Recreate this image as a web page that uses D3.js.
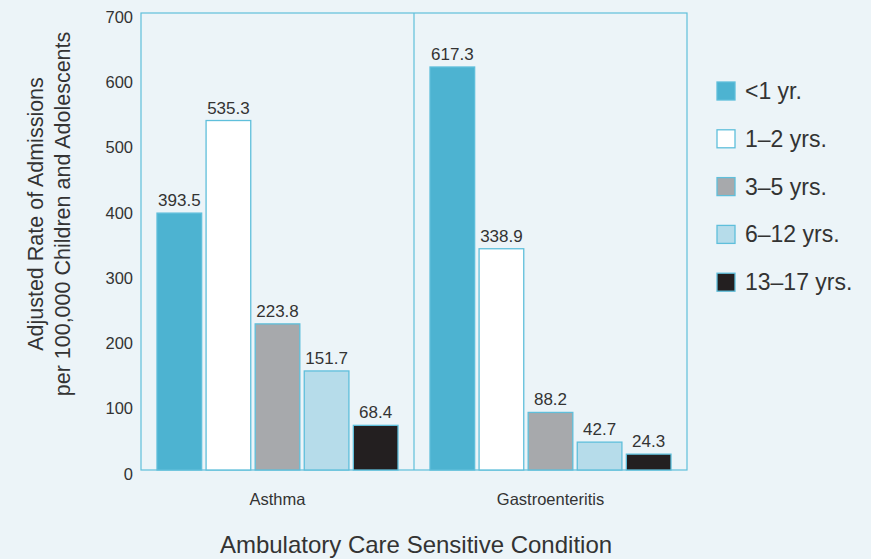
<!DOCTYPE html>
<html><head><meta charset="utf-8">
<script src="https://cdn.jsdelivr.net/npm/d3@7"></script>
<style>body{margin:0;background:#ecf4f8;}svg{display:block;}</style>
</head><body>
<svg id="c" width="871" height="559"></svg>
<script>
const categories = ["Asthma", "Gastroenteritis"];
const seriesNames = ["<1 yr.", "1\u20132 yrs.", "3\u20135 yrs.", "6\u201312 yrs.", "13\u201317 yrs."];
const asthmaValues = [393.5, 535.3, 223.8, 151.7, 68.4];
const gastroValues = [617.3, 338.9, 88.2, 42.7, 24.3];
const yTicks = [0, 100, 200, 300, 400, 500, 600, 700];
const colors = ["#4db3d1", "#ffffff", "#a7a9ac", "#b6dcea", "#231f20"];

const valuesByCat = [asthmaValues, gastroValues];
const font = "'Liberation Sans', Arial, sans-serif";
const txt = "#333333";
const edge = "#5fbfdb";

const svg = d3.select("#c");
const L = 141, R = 687, T = 13, B = 470;
svg.append("rect").attr("width", 871).attr("height", 559).attr("fill", "#ecf4f8");

const x0 = d3.scaleBand().domain(categories).range([L, R]);
const x1 = d3.scaleBand().domain(seriesNames).range([16, x0.bandwidth() - 16]).paddingInner(0.09).paddingOuter(0);
const y = d3.scaleLinear().domain([0, 700]).range([B, T]);

// frame
svg.append("rect").attr("x", L).attr("y", T).attr("width", R - L).attr("height", B - T)
  .attr("fill", "none").attr("stroke", edge).attr("stroke-width", 1.2);
categories.slice(1).forEach(c => {
  svg.append("line").attr("x1", x0(c)).attr("x2", x0(c)).attr("y1", T).attr("y2", B)
    .attr("stroke", edge).attr("stroke-width", 1.2);
});

// y axis
const yAxis = d3.axisLeft(y).tickValues(yTicks).tickSize(0).tickPadding(8);
const ga = svg.append("g").attr("transform", `translate(${L},0)`).call(yAxis);
ga.select(".domain").remove();
ga.selectAll("text").attr("font-family", font).attr("font-size", 16.5).attr("fill", txt).attr("dy", "0.62em").attr("transform", "translate(0,-1)");

// bars
categories.forEach((c, ci) => {
  const g = svg.append("g").attr("transform", `translate(${x0(c)},0)`);
  seriesNames.forEach((s, si) => {
    const v = valuesByCat[ci][si];
    g.append("rect").attr("x", x1(s)).attr("y", y(v)).attr("width", x1.bandwidth()).attr("height", B - y(v))
      .attr("fill", colors[si]).attr("stroke", edge).attr("stroke-width", 1.3);
    g.append("text").attr("x", x1(s) + x1.bandwidth() / 2).attr("y", y(v) - 7)
      .attr("text-anchor", "middle").attr("font-family", font).attr("font-size", 17).attr("fill", txt)
      .text(v.toFixed(1));
  });
  svg.append("text").attr("x", x0(c) + x0.bandwidth() / 2).attr("y", 505).attr("text-anchor", "middle")
    .attr("font-family", font).attr("font-size", 16.5).attr("fill", txt).text(c);
});

// axis titles
svg.append("text").attr("x", 416).attr("y", 553).attr("text-anchor", "middle")
  .attr("font-family", font).attr("font-size", 24).attr("fill", txt).text("Ambulatory Care Sensitive Condition");
const yt = svg.append("text").attr("transform", "translate(0,214) rotate(-90)").attr("text-anchor", "middle")
  .attr("font-family", font).attr("font-size", 21.5).attr("fill", txt);
yt.append("tspan").attr("x", 0).attr("y", 43).text("Adjusted Rate of Admissions");
yt.append("tspan").attr("x", 0).attr("y", 70).text("per 100,000 Children and Adolescents");

// legend
const lg = svg.append("g");
seriesNames.forEach((s, i) => {
  const yy = 82 + i * 47.8;
  lg.append("rect").attr("x", 717).attr("y", yy).attr("width", 18).attr("height", 18)
    .attr("fill", colors[i]).attr("stroke", edge).attr("stroke-width", 1.3);
  lg.append("text").attr("x", 745).attr("y", yy + 17).attr("font-family", font).attr("font-size", 23)
    .attr("fill", txt).text(s);
});
</script>
</body></html>
